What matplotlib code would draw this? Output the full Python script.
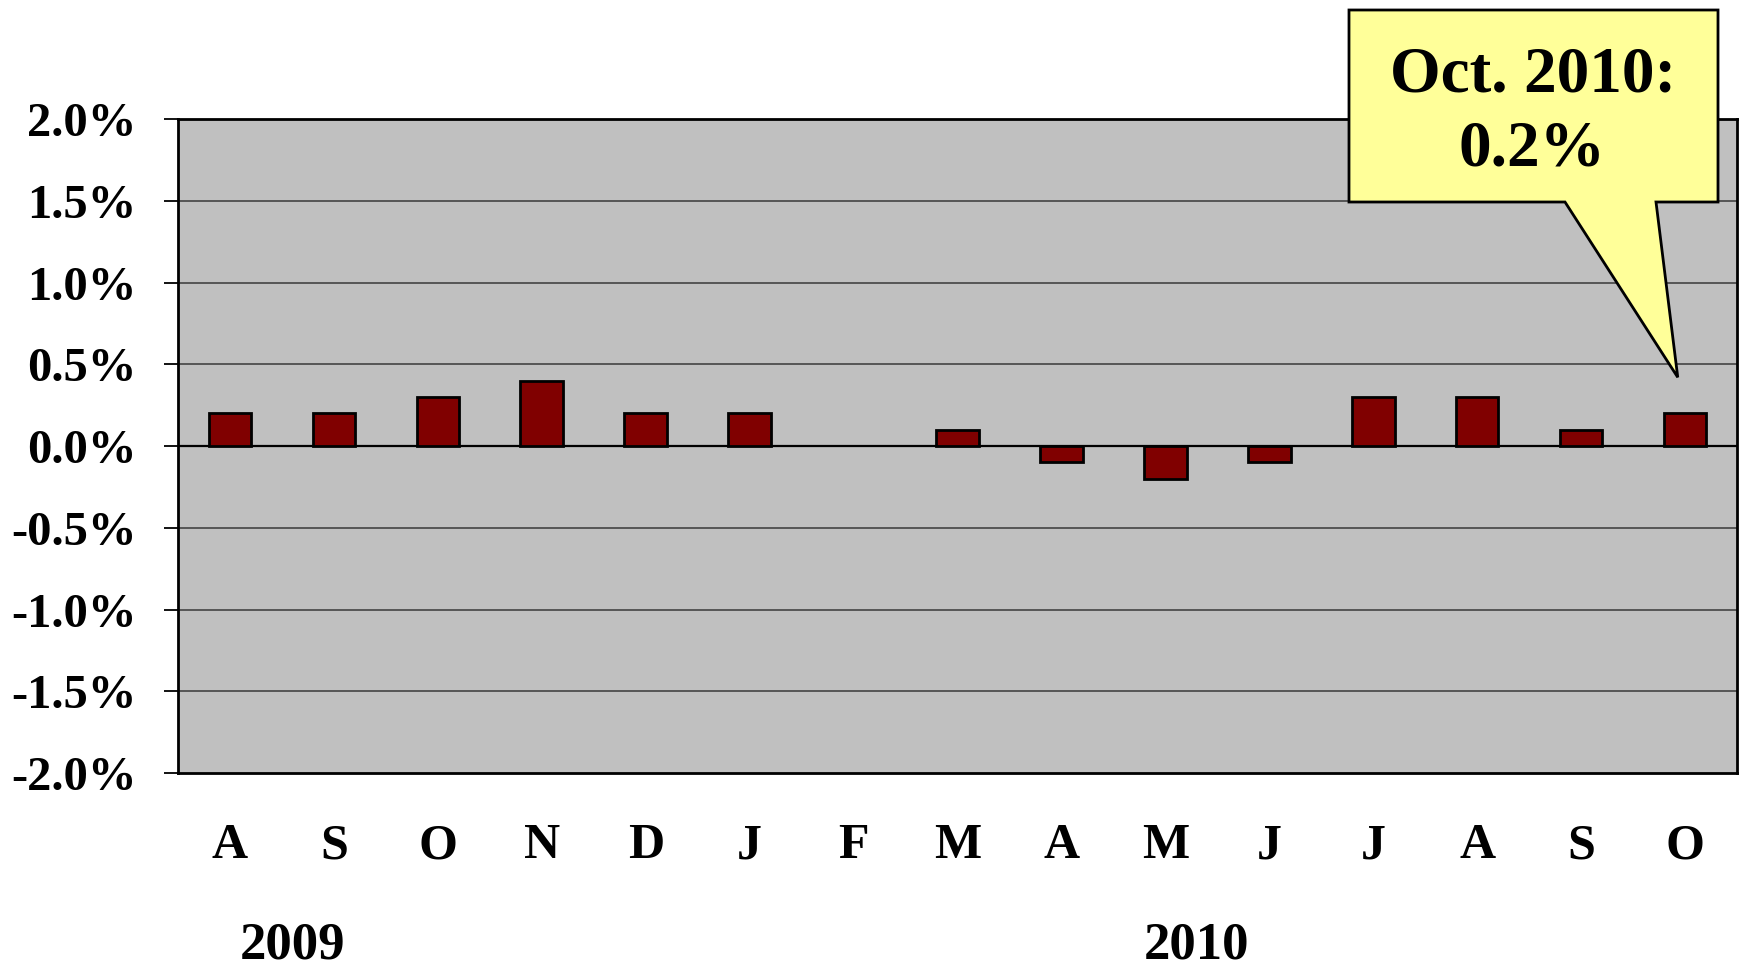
import matplotlib
matplotlib.use("Agg")
import matplotlib.pyplot as plt
from matplotlib.patches import Polygon
import numpy as np

# Monthly percent change, Aug 2009 - Oct 2010
months = ["A", "S", "O", "N", "D", "J", "F", "M", "A", "M", "J", "J", "A", "S", "O"]
values = [0.2, 0.2, 0.3, 0.4, 0.2, 0.2, 0.0, 0.1, -0.1, -0.2, -0.1, 0.3, 0.3, 0.1, 0.2]
years = ["2009", "2010"]
year_positions = [0.6, 9.3]
yticks = [-2.0, -1.5, -1.0, -0.5, 0.0, 0.5, 1.0, 1.5, 2.0]
callout_lines = ["Oct. 2010:", "0.2%"]

plt.rcParams["font.family"] = ["Liberation Serif", "DejaVu Serif"]
plt.rcParams["font.weight"] = "bold"

W, H = 1742, 972
fig = plt.figure(figsize=(W / 100, H / 100), dpi=100)
ax = fig.add_axes([178 / W, 1 - 773 / H, (1737 - 178) / W, (773 - 119) / H])
ax.set_facecolor("#C0C0C0")

x = np.arange(len(values))
edge_widths = [2 if v != 0 else 0 for v in values]
ax.bar(x, values, width=0.41, color="#800000", edgecolor="black",
       linewidth=edge_widths, zorder=3)

ax.set_xlim(-0.5, len(values) - 0.5)
ax.set_ylim(-2.0, 2.0)
ax.set_yticks(yticks)
ax.set_yticklabels([f"{v:.1f}%" for v in yticks], fontsize=35, fontweight="bold")
for v in yticks:
    if v == 0:
        ax.axhline(v, color="black", linewidth=1.6, zorder=2)
    elif -2.0 < v < 2.0:
        ax.axhline(v, color="#4d4d4d", linewidth=1.3, zorder=1)
ax.tick_params(axis="y", length=10, width=1.3, pad=20, direction="out")
ax.set_xticks(x)
ax.set_xticklabels(months, fontsize=36, fontweight="bold")
ax.tick_params(axis="x", length=0, pad=36)

for s in ax.spines.values():
    s.set_linewidth(2)
    s.set_color("black")

for yr, pos in zip(years, year_positions):
    ax.text(pos, -0.283, yr, transform=ax.get_xaxis_transform(), ha="center", va="baseline",
            fontsize=38, fontweight="bold")

# Speech-bubble callout pointing at the latest bar
tip_disp = ax.transData.transform((len(values) - 1 - 0.07, values[-1] + 0.22))
tip = fig.transFigure.inverted().transform(tip_disp)
def fpt(px, py):
    return (px / W, 1 - py / H)
bubble = [fpt(1349, 10), fpt(1718, 10), fpt(1718, 202), fpt(1656, 202), tuple(tip),
          fpt(1565, 202), fpt(1349, 202)]
fig.patches.append(Polygon(bubble, closed=True, facecolor="#FFFF99", edgecolor="black",
                           linewidth=2, transform=fig.transFigure, zorder=10))
fig.text(1533 / W, 1 - 76 / H, callout_lines[0], ha="center", va="center",
         fontsize=47, fontweight="bold", zorder=11)
fig.text(1532 / W, 1 - 150 / H, callout_lines[1], ha="center", va="center",
         fontsize=47, fontweight="bold", zorder=11)

fig.savefig("out.png", dpi=100, facecolor="white")
